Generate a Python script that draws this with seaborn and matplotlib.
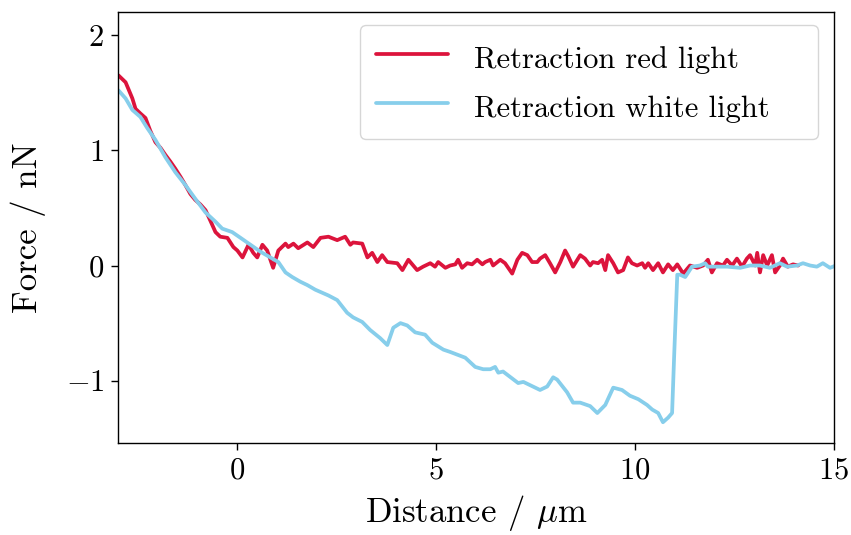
import matplotlib
matplotlib.use("Agg")
import matplotlib.pyplot as plt
import seaborn as sns
import pandas as pd

# Retraction curve under red illumination
red_distance = [
    -2.99, -2.81, -2.64, -2.56, -2.44, -2.31, -2.19, -2.06, -1.93, -1.81,
    -1.68, -1.56, -1.43, -1.31, -1.18, -1.06, -0.93, -0.80, -0.68, -0.55,
    -0.43, -0.25, -0.10, 0.00, 0.13, 0.28, 0.40, 0.50, 0.63, 0.75,
    0.90, 1.03, 1.21, 1.28, 1.41, 1.53, 1.76, 1.91, 2.09, 2.29,
    2.51, 2.71, 2.84, 2.91, 3.14, 3.27, 3.39, 3.52, 3.64, 3.77,
    4.02, 4.15, 4.30, 4.52, 4.67, 4.85, 4.97, 5.05, 5.23, 5.35,
    5.48, 5.55, 5.65, 5.78, 5.90, 6.03, 6.16, 6.23, 6.36, 6.43,
    6.61, 6.73, 6.91, 7.04, 7.16, 7.29, 7.41, 7.54, 7.61, 7.74,
    7.86, 7.99, 8.12, 8.24, 8.32, 8.44, 8.62, 8.74, 8.87, 8.94,
    9.07, 9.17, 9.25, 9.32, 9.45, 9.57, 9.70, 9.82, 9.92, 10.05,
    10.18, 10.25, 10.33, 10.45, 10.58, 10.70, 10.83, 10.95, 11.06, 11.21,
    11.38, 11.56, 11.71, 11.83, 11.93, 12.06, 12.21, 12.31, 12.44, 12.56,
    12.69, 12.81, 12.89, 13.02, 13.07, 13.14, 13.22, 13.32, 13.44, 13.52,
    13.64, 13.72, 13.84, 13.97, 14.10,
]
red_force = [
    1.65, 1.59, 1.45, 1.36, 1.32, 1.28, 1.17, 1.07, 1.02, 0.96,
    0.90, 0.84, 0.77, 0.70, 0.62, 0.57, 0.53, 0.48, 0.39, 0.29,
    0.25, 0.24, 0.16, 0.13, 0.07, 0.18, 0.11, 0.07, 0.18, 0.13,
    -0.02, 0.13, 0.19, 0.16, 0.19, 0.15, 0.20, 0.16, 0.24, 0.25,
    0.22, 0.25, 0.18, 0.20, 0.19, 0.07, 0.11, 0.03, 0.09, 0.03,
    0.02, -0.04, 0.05, -0.04, -0.01, 0.02, -0.01, 0.03, -0.02, 0.00,
    0.01, 0.05, -0.02, 0.02, 0.01, 0.05, 0.01, 0.03, 0.05, 0.00,
    0.05, 0.02, -0.07, 0.05, 0.11, 0.09, 0.03, 0.03, 0.06, 0.09,
    0.02, -0.06, 0.03, 0.13, 0.08, -0.01, 0.09, 0.06, 0.00, 0.03,
    0.02, 0.05, -0.04, 0.09, 0.02, -0.06, -0.04, 0.07, 0.02, 0.00,
    0.02, -0.02, 0.02, -0.04, 0.02, -0.06, 0.01, -0.04, 0.01, -0.07,
    0.00, -0.02, 0.00, 0.05, -0.06, 0.02, 0.00, 0.05, 0.00, 0.06,
    -0.01, 0.06, 0.09, 0.00, 0.11, -0.06, 0.09, 0.00, 0.09, -0.06,
    0.00, 0.06, -0.01, 0.01, 0.00,
]

# Retraction curve under white illumination
white_distance = [
    -2.99, -2.81, -2.64, -2.44, -2.26, -2.06, -1.81, -1.56, -1.31, -1.06,
    -0.80, -0.55, -0.38, -0.13, 0.08, 0.33, 0.58, 0.83, 1.03, 1.21,
    1.38, 1.58, 1.76, 1.96, 2.29, 2.51, 2.76, 2.91, 3.14, 3.34,
    3.59, 3.77, 3.92, 4.10, 4.27, 4.47, 4.72, 4.90, 5.18, 5.35,
    5.73, 5.98, 6.18, 6.36, 6.48, 6.56, 6.68, 7.06, 7.19, 7.31,
    7.61, 7.79, 7.94, 8.04, 8.29, 8.44, 8.62, 8.87, 9.05, 9.25,
    9.45, 9.67, 9.87, 10.08, 10.30, 10.43, 10.58, 10.70, 10.83, 10.93,
    10.98, 11.06, 11.13, 11.26, 11.43, 11.63, 11.76, 11.83, 12.06, 12.31,
    12.64, 12.89, 13.14, 13.39, 13.64, 13.82, 14.07, 14.22, 14.40, 14.57,
    14.72, 14.90, 15.05,
]
white_force = [
    1.52, 1.45, 1.35, 1.29, 1.19, 1.09, 0.94, 0.81, 0.70, 0.58,
    0.46, 0.38, 0.32, 0.29, 0.24, 0.18, 0.12, 0.07, 0.03, -0.06,
    -0.10, -0.14, -0.17, -0.21, -0.26, -0.30, -0.41, -0.45, -0.49, -0.56,
    -0.63, -0.69, -0.54, -0.50, -0.52, -0.58, -0.60, -0.67, -0.73, -0.75,
    -0.80, -0.88, -0.90, -0.90, -0.88, -0.93, -0.92, -1.02, -1.01, -1.03,
    -1.08, -1.05, -0.97, -0.99, -1.10, -1.19, -1.19, -1.22, -1.28, -1.21,
    -1.06, -1.08, -1.13, -1.16, -1.21, -1.25, -1.28, -1.36, -1.32, -1.28,
    -0.80, -0.08, -0.08, -0.10, -0.01, 0.00, 0.02, -0.01, -0.01, -0.01,
    -0.02, 0.00, 0.00, -0.02, 0.02, -0.01, 0.00, 0.02, 0.00, -0.01,
    0.02, -0.02, 0.00,
]

red_label = "Retraction red light"
white_label = "Retraction white light"

sns.set_style("ticks")
plt.rcParams.update({
    "font.family": ["cmr10", "DejaVu Serif"],
    "mathtext.fontset": "cm",
    "axes.formatter.use_mathtext": True,
    "axes.unicode_minus": True,
    "font.size": 25,
    "axes.edgecolor": "black",
    "axes.linewidth": 1.0,
    "xtick.color": "black",
    "ytick.color": "black",
    "text.color": "black",
    "axes.labelcolor": "black",
})

fig = plt.figure(figsize=(8.51, 5.35), dpi=100)
ax = fig.add_axes([0.1387, 0.172, 0.980 - 0.1387, 0.9776 - 0.172])

red_df = pd.DataFrame({"distance": red_distance, "force": red_force})
white_df = pd.DataFrame({"distance": white_distance, "force": white_force})

sns.lineplot(data=red_df, x="distance", y="force", ax=ax, color="#DC143C",
             linewidth=2.7, label=red_label, estimator=None, sort=False)
sns.lineplot(data=white_df, x="distance", y="force", ax=ax, color="#87CEEB",
             linewidth=2.7, label=white_label, estimator=None, sort=False)

ax.set_xlim(-3, 15)
ax.set_ylim(-1.54, 2.2)
ax.set_xticks([0, 5, 10, 15])
ax.set_yticks([-1, 0, 1, 2])
ax.tick_params(labelsize=22, length=5, width=1.0, direction="out", pad=5)
ax.set_xlabel(r"Distance / $\mu$m", fontsize=25, labelpad=6)
ax.set_ylabel("Force / nN", fontsize=25, labelpad=14)

ax.legend(loc="upper left", bbox_to_anchor=(0.338, 0.7077, 0.6397, 0.2623),
          mode="expand", borderaxespad=0.0,
          fontsize=22, frameon=True, framealpha=0.8,
          edgecolor="0.8", fancybox=True,
          handlelength=2.35, handletextpad=0.85, handleheight=1.3,
          labelspacing=0.52, borderpad=0.52)

fig.savefig("out.png", dpi=100)
